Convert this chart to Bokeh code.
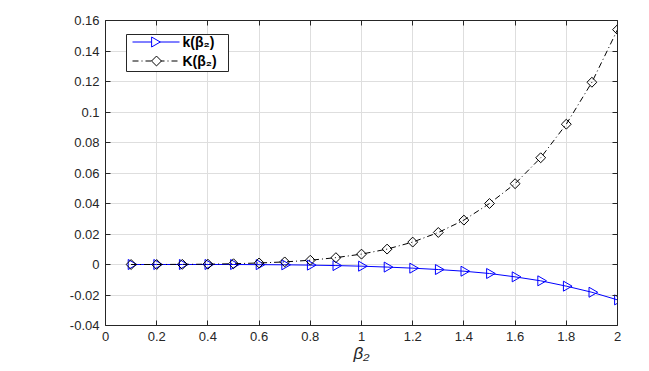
import numpy as np
from bokeh.plotting import figure
from bokeh.models import ColumnDataSource, FixedTicker, LinearAxis, Range1d
from bokeh.core.properties import value
from bokeh.embed import file_html
from bokeh.resources import INLINE

beta2 = [0.1, 0.2, 0.3, 0.4, 0.5, 0.6, 0.7, 0.8, 0.9, 1.0,
         1.1, 1.2, 1.3, 1.4, 1.5, 1.6, 1.7, 1.8, 1.9, 2.0]
k_vals = [0.0, 0.0, 0.0, 0.0, 0.0, -0.0001, -0.0002, -0.0004, -0.0007, -0.0011,
          -0.0017, -0.0024, -0.0033, -0.0044, -0.0059, -0.0081, -0.0107, -0.0142, -0.0182, -0.0232]
K_vals = [0.0, 0.0, 0.0001, 0.0002, 0.0005, 0.001, 0.0017, 0.0028, 0.0045, 0.0068,
          0.0101, 0.0147, 0.021, 0.0291, 0.040, 0.053, 0.070, 0.092, 0.1195, 0.154]
x_ticks = [0, 0.2, 0.4, 0.6, 0.8, 1.0, 1.2, 1.4, 1.6, 1.8, 2.0]
x_labels = ["0", "0.2", "0.4", "0.6", "0.8", "1", "1.2", "1.4", "1.6", "1.8", "2"]
y_ticks = [-0.04, -0.02, 0, 0.02, 0.04, 0.06, 0.08, 0.1, 0.12, 0.14, 0.16]
y_labels = ["-0.04", "-0.02", "0", "0.02", "0.04", "0.06", "0.08", "0.1", "0.12", "0.14", "0.16"]
legend_labels = ["k(β₂)", "K(β₂)"]

FONT = "Liberation Sans"
AX = "#262626"
FW, FH = 512, 305

p = figure(frame_width=FW, frame_height=FH, output_backend="svg", toolbar_location=None,
           x_range=Range1d(0, 2), y_range=Range1d(-0.04, 0.16),
           min_border_left=105, min_border_top=20, min_border_right=12, min_border_bottom=30,
           outline_line_color=None, background_fill_color="white")
# pixel-space ranges for the hand-drawn legend box
p.extra_x_ranges = {"px": Range1d(0, FW)}
p.extra_y_ranges = {"py": Range1d(0, FH)}

src = ColumnDataSource(dict(x=beta2, k=k_vals, K=K_vals))

p.line("x", "k", source=src, line_color="#0000FF", line_width=1)
p.scatter("x", "k", source=src, marker="triangle", angle=-np.pi / 2, size=10,
          line_color="#0000FF", fill_color=None, line_width=1)
p.line("x", "K", source=src, line_color="black", line_width=1, line_dash="6 3 1 3")
p.scatter("x", "K", source=src, marker="square", angle=np.pi / 4, size=7,
          line_color="black", fill_color=None, line_width=1)

for ax in [p.xaxis[0], p.yaxis[0]]:
    ax.axis_line_color = AX
    ax.major_tick_line_color = AX
    ax.major_tick_in = 5
    ax.major_tick_out = 0
    ax.minor_tick_line_color = None
    ax.major_label_text_font = FONT
    ax.major_label_text_font_size = "13px"
    ax.major_label_text_color = AX
p.xaxis[0].ticker = FixedTicker(ticks=x_ticks)
p.yaxis[0].ticker = FixedTicker(ticks=y_ticks)
p.xaxis[0].major_label_overrides = {float(t): s for t, s in zip(x_ticks, x_labels)}
p.yaxis[0].major_label_overrides = {float(t): s for t, s in zip(y_ticks, y_labels)}
p.xaxis[0].axis_label = "β₂"
p.xaxis[0].axis_label_text_font = FONT
p.xaxis[0].axis_label_text_font_style = "italic"
p.xaxis[0].axis_label_text_font_size = "17px"
p.xaxis[0].axis_label_text_color = AX
p.xaxis[0].axis_label_standoff = 0
p.xaxis[0].major_label_standoff = 6
p.yaxis[0].major_label_standoff = 6

# box edges with inward ticks (no labels)
top = LinearAxis(ticker=FixedTicker(ticks=x_ticks),
                 major_tick_in=5, major_tick_out=0, axis_line_color=AX,
                 major_tick_line_color=AX, minor_tick_line_color=None,
                 major_label_overrides={float(t): "" for t in x_ticks},
                 major_label_standoff=0)
right = LinearAxis(ticker=FixedTicker(ticks=y_ticks),
                   major_tick_in=5, major_tick_out=0, axis_line_color=AX,
                   major_tick_line_color=AX, minor_tick_line_color=None,
                   major_label_overrides={float(t): "" for t in y_ticks},
                   major_label_standoff=0)
p.add_layout(top, "above")
p.add_layout(right, "right")

p.xgrid.ticker = FixedTicker(ticks=x_ticks)
p.ygrid.ticker = FixedTicker(ticks=y_ticks)
p.grid.grid_line_color = "#dedede"
p.grid.grid_line_width = 1

# legend (pixel coordinates inside the frame, measured from bottom-left)
bx0, bx1, by0, by1 = 21, 123, 254, 291
rows = [283.5, 264.5]
lx0, lx1, mx, tx = 27, 74, 49, 77
p.quad(left=[bx0], right=[bx1], bottom=[by0], top=[by1], fill_color="white",
       line_color=AX, line_width=1, x_range_name="px", y_range_name="py")
p.segment(x0=[lx0], x1=[lx1], y0=[rows[0]], y1=[rows[0]], line_color="#0000FF",
          line_width=1, x_range_name="px", y_range_name="py")
p.scatter(x=[mx], y=[rows[0]], marker="triangle", angle=-np.pi / 2, size=10,
          line_color="#0000FF", fill_color="white", line_width=1,
          x_range_name="px", y_range_name="py")
p.segment(x0=[lx0], x1=[lx1], y0=[rows[1]], y1=[rows[1]], line_color="black",
          line_width=1, line_dash="6 3 1 3", x_range_name="px", y_range_name="py")
p.scatter(x=[mx + 2], y=[rows[1]], marker="square", angle=np.pi / 4, size=7,
          line_color="black", fill_color="white", line_width=1,
          x_range_name="px", y_range_name="py")
p.text(x=[tx, tx], y=rows, text=legend_labels, text_font=value(FONT),
       text_font_style="bold", text_font_size="14px", text_baseline="middle",
       text_color="black", x_range_name="px", y_range_name="py")

open("out.html", "w").write(file_html(p, INLINE))
